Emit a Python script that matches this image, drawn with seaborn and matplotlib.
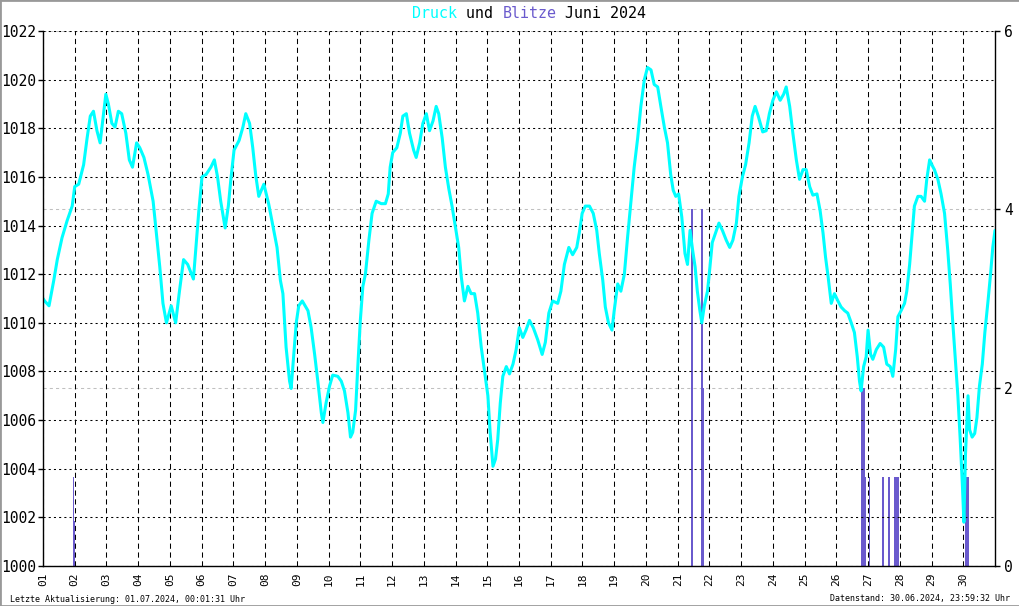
import numpy as np
import pandas as pd
import matplotlib
matplotlib.use("Agg")
import matplotlib.pyplot as plt
import seaborn as sns

# Luftdruck in hPa, Zeit in Tagen seit 01.06.2024 00:00
zeit = [0.00, 0.05, 0.19, 0.34, 0.45, 0.60, 0.76, 0.92, 1.00, 1.125, 1.28, 1.39, 1.49, 1.59,
        1.70, 1.80, 1.91, 1.98, 2.06, 2.17, 2.27, 2.375, 2.48, 2.61, 2.72, 2.82, 2.95, 3.05,
        3.18, 3.31, 3.47, 3.57, 3.68, 3.78, 3.89, 4.04, 4.18, 4.30, 4.43, 4.56, 4.74, 4.82,
        4.91, 5.01, 5.14, 5.29, 5.40, 5.50, 5.60, 5.74, 5.84, 5.92, 6.02, 6.18, 6.30, 6.39,
        6.51, 6.61, 6.70, 6.80, 6.96, 7.11, 7.27, 7.375, 7.48, 7.56, 7.66, 7.77, 7.82, 7.89,
        7.98, 8.06, 8.17, 8.35, 8.45, 8.56, 8.66, 8.77, 8.82, 8.92, 9.03, 9.13, 9.29, 9.40,
        9.50, 9.61, 9.69, 9.76, 9.85, 9.92, 10.00, 10.08, 10.16, 10.27, 10.37, 10.50, 10.66,
        10.79, 10.88, 10.94, 11.02, 11.15, 11.26, 11.34, 11.45, 11.55, 11.68, 11.76, 11.87,
        11.97, 12.08, 12.18, 12.29, 12.39, 12.47, 12.58, 12.68, 12.79, 12.89, 13.00, 13.10,
        13.18, 13.28, 13.39, 13.49, 13.60, 13.70, 13.81, 13.91, 14.02, 14.09, 14.18, 14.26,
        14.33, 14.41, 14.49, 14.60, 14.70, 14.81, 14.91, 15.01, 15.12, 15.22, 15.33, 15.45,
        15.59, 15.73, 15.83, 15.94, 16.06, 16.22, 16.32, 16.43, 16.57, 16.69, 16.82, 16.90,
        16.99, 17.09, 17.22, 17.34, 17.45, 17.53, 17.64, 17.72, 17.82, 17.93, 18.00, 18.11,
        18.21, 18.32, 18.42, 18.53, 18.63, 18.74, 18.84, 18.95, 19.05, 19.16, 19.26, 19.37,
        19.47, 19.58, 19.68, 19.78, 19.86, 19.94, 20.03, 20.13, 20.23, 20.31, 20.39, 20.47,
        20.55, 20.62, 20.70, 20.76, 20.84, 20.94, 21.01, 21.09, 21.22, 21.30, 21.41, 21.53,
        21.64, 21.74, 21.85, 21.93, 22.04, 22.14, 22.25, 22.35, 22.44, 22.54, 22.68, 22.79,
        22.89, 23.00, 23.11, 23.23, 23.34, 23.42, 23.53, 23.63, 23.74, 23.84, 23.95, 24.05,
        24.16, 24.26, 24.39, 24.49, 24.58, 24.66, 24.74, 24.84, 24.94, 25.05, 25.15, 25.26,
        25.36, 25.47, 25.57, 25.66, 25.73, 25.78, 25.86, 25.94, 26.00, 26.08, 26.15, 26.26,
        26.38, 26.49, 26.59, 26.70, 26.78, 26.87, 26.94, 27.04, 27.15, 27.22, 27.31, 27.39,
        27.46, 27.57, 27.67, 27.78, 27.85, 27.94, 28.01, 28.09, 28.20, 28.30, 28.41, 28.51,
        28.59, 28.67, 28.76, 28.83, 28.90, 28.97, 29.02, 29.07, 29.15, 29.20, 29.28, 29.36,
        29.43, 29.51, 29.60, 29.68, 29.78, 29.86, 29.93, 30.00]
druck = [1011.0, 1010.9, 1010.7, 1011.75, 1012.6, 1013.5, 1014.2, 1014.8, 1015.6, 1015.7, 1016.5,
         1017.6, 1018.5, 1018.7, 1017.9, 1017.4, 1018.6, 1019.4, 1019.0, 1018.2, 1018.05, 1018.7,
         1018.6, 1017.8, 1016.7, 1016.4, 1017.4, 1017.2, 1016.8, 1016.1, 1015.0, 1013.7, 1012.3,
         1010.8, 1010.0, 1010.7, 1010.0, 1011.3, 1012.6, 1012.4, 1011.8, 1013.1, 1014.6, 1016.0,
         1016.1, 1016.4, 1016.7, 1016.0, 1015.0, 1013.9, 1014.8, 1015.9, 1017.1, 1017.5, 1018.05,
         1018.6, 1018.2, 1017.2, 1016.1, 1015.2, 1015.7, 1014.9, 1013.8, 1013.1, 1011.75, 1011.2,
         1009.0, 1007.6, 1007.3, 1008.5, 1010.0, 1010.7, 1010.9, 1010.5, 1009.8, 1008.7, 1007.6,
         1006.3, 1005.9, 1006.7, 1007.4, 1007.85, 1007.8, 1007.6, 1007.2, 1006.3, 1005.3, 1005.5,
         1006.4, 1008.2, 1010.1, 1011.5, 1012.0, 1013.4, 1014.5, 1015.0, 1014.9, 1014.9, 1015.3,
         1016.4, 1017.0, 1017.2, 1017.8, 1018.5, 1018.6, 1017.8, 1017.1, 1016.8, 1017.4, 1018.2,
         1018.6, 1017.9, 1018.3, 1018.9, 1018.6, 1017.6, 1016.4, 1015.5, 1014.8, 1013.9, 1013.1,
         1011.9, 1010.9, 1011.5, 1011.2, 1011.2, 1010.4, 1009.0, 1008.05, 1007.0, 1005.5, 1004.1,
         1004.4, 1005.2, 1006.7, 1007.8, 1008.2, 1007.9, 1008.3, 1008.9, 1009.8, 1009.4, 1009.7,
         1010.1, 1009.8, 1009.3, 1008.7, 1009.2, 1010.4, 1010.9, 1010.8, 1011.3, 1012.4, 1013.1,
         1012.8, 1013.1, 1013.7, 1014.5, 1014.8, 1014.8, 1014.5, 1013.8, 1012.85, 1011.75, 1010.65,
         1010.0, 1009.7, 1010.5, 1011.6, 1011.3, 1012.0, 1013.5, 1015.0, 1016.4, 1017.6, 1018.9,
         1020.0, 1020.5, 1020.4, 1019.8, 1019.7, 1018.9, 1018.05, 1017.4, 1016.1, 1015.45, 1015.2,
         1015.3, 1014.35, 1012.85, 1012.4, 1013.8, 1013.0, 1012.3, 1011.3, 1010.5, 1010.0, 1010.7,
         1011.3, 1012.2, 1013.3, 1013.8, 1014.1, 1013.8, 1013.4, 1013.1, 1013.4, 1014.1, 1015.2,
         1016.0, 1016.5, 1017.4, 1018.5, 1018.9, 1018.5, 1017.85, 1017.9, 1018.6, 1019.15, 1019.5,
         1019.15, 1019.4, 1019.7, 1018.9, 1017.8, 1016.7, 1015.9, 1016.3, 1016.3, 1015.6, 1015.25,
         1015.3, 1014.6, 1013.7, 1012.7, 1011.9, 1010.8, 1011.2, 1010.9, 1010.65, 1010.5, 1010.4,
         1010.0, 1009.6, 1008.6, 1007.6, 1007.2, 1008.2, 1008.6, 1009.7, 1008.7, 1008.5, 1008.9,
         1009.15, 1009.0, 1008.3, 1008.2, 1007.8, 1008.9, 1010.25, 1010.5, 1010.8, 1011.3, 1012.4,
         1013.7, 1014.8, 1015.2, 1015.2, 1015.0, 1015.9, 1016.7, 1016.5, 1016.3, 1015.9, 1015.3,
         1014.5, 1013.0, 1011.6, 1010.0, 1008.3, 1007.0, 1005.3, 1003.4, 1001.8, 1004.6, 1007.0,
         1005.6, 1005.3, 1005.45, 1006.1, 1007.4, 1008.3, 1009.6, 1010.9, 1012.0, 1013.1, 1013.8]

# Blitze: Beginn (Tage seit 01.06.), Dauer (Tage), Anzahl
blitz_start = [0.93, 0.93, 20.43, 20.42, 20.75, 20.745, 20.74, 25.79, 25.85, 25.78,
               26.02, 26.45, 26.64, 26.82, 29.06]
blitz_dauer = [0.045, 0.065, 0.045, 0.07, 0.045, 0.07, 0.10, 0.045, 0.045, 0.14,
               0.045, 0.045, 0.045, 0.14, 0.11]
blitz_anzahl = [1.0, 0.5, 4.0, 1.0, 4.0, 2.0, 1.0, 2.0, 2.0, 1.0,
                1.0, 1.0, 1.0, 1.0, 1.0]

tage = list(range(1, 31))
tag_labels = [f"{d:02d}" for d in tage]
druck_ticks = list(range(1000, 1023, 2))
blitz_ticks = [0, 2, 4, 6]

sns.set_style("white")
plt.rcParams["font.family"] = ["DejaVu Sans Mono", "DejaVu Sans"]
plt.rcParams["text.color"] = "black"

df = pd.DataFrame({"Tag": 1 + np.array(zeit), "Druck": druck})

fig = plt.figure(figsize=(10.2, 6.06), dpi=100)
ax = fig.add_axes([43 / 1020, 40 / 606, 952 / 1020, 535 / 606])
ax2 = ax.twinx()

# Blitze (rechte Achse)
ax2.bar(1 + np.array(blitz_start), blitz_anzahl, width=blitz_dauer, align="edge",
        color="#6a5acd", edgecolor="#6a5acd", linewidth=0, antialiased=False)
ax2.set_ylim(0, 6)
ax2.set_yticks(blitz_ticks)
ax2.yaxis.grid(True, color="#c0c0c0", linestyle=(0, (3, 3)), linewidth=0.75)
ax2.tick_params(axis="y", length=3.6, width=1, pad=3, labelsize=10.5, colors="black")
for s in ["left", "top", "bottom"]:
    ax2.spines[s].set_visible(False)
ax2.spines["right"].set_color("black")
ax2.spines["right"].set_linewidth(1)

# Druck (linke Achse) oben drauf
ax.set_zorder(ax2.get_zorder() + 1)
ax.patch.set_visible(False)
sns.lineplot(data=df, x="Tag", y="Druck", ax=ax, color="#00ffff", linewidth=2.2,
             estimator=None, sort=False)
ax.set_xlim(1, 31)
ax.set_ylim(1000, 1022)
ax.set_xticks(tage)
ax.set_xticklabels(tag_labels, rotation=90, fontsize=8)
ax.set_yticks(druck_ticks)
ax.set_xlabel("")
ax.set_ylabel("")
ax.xaxis.grid(True, color="black", linestyle=(0, (5, 3.5)), linewidth=0.75)
ax.yaxis.grid(True, color="black", linestyle=(0, (2, 3)), linewidth=0.75)
ax.tick_params(axis="x", length=0, pad=5, colors="black")
ax.tick_params(axis="y", length=3.6, width=1, pad=1, labelsize=10.5, colors="black")
ax.spines["top"].set_visible(False)
ax.spines["right"].set_visible(False)
for s in ["left", "bottom"]:
    ax.spines[s].set_color("black")
    ax.spines[s].set_linewidth(1)

# Titel in Farbe (Monospace, Zeichenbreite 0.602 em)
fs = 10.8
cw = 0.602 * fs * 100 / 72
x0 = 412
ty = 1 - 13 / 606
teile = [("Druck", "#00ffff", 0), (" und ", "black", 5), ("Blitze", "#6a5acd", 10),
         (" Juni 2024", "black", 16)]
for txt, col, n in teile:
    fig.text((x0 + n * cw) / 1020, ty, txt, color=col, fontsize=fs, ha="left", va="center")

fig.text(10 / 1020, 1 - 599 / 606, "Letzte Aktualisierung: 01.07.2024, 00:01:31 Uhr",
         fontsize=6, ha="left", va="center")
fig.text(1010 / 1020, 1 - 599 / 606, "Datenstand: 30.06.2024, 23:59:32 Uhr",
         fontsize=6, ha="right", va="center")

fig.add_artist(plt.Rectangle((0, 0), 1, 1, transform=fig.transFigure, fill=False,
                             edgecolor="#999999", linewidth=2))

fig.savefig("out.png", dpi=100)
